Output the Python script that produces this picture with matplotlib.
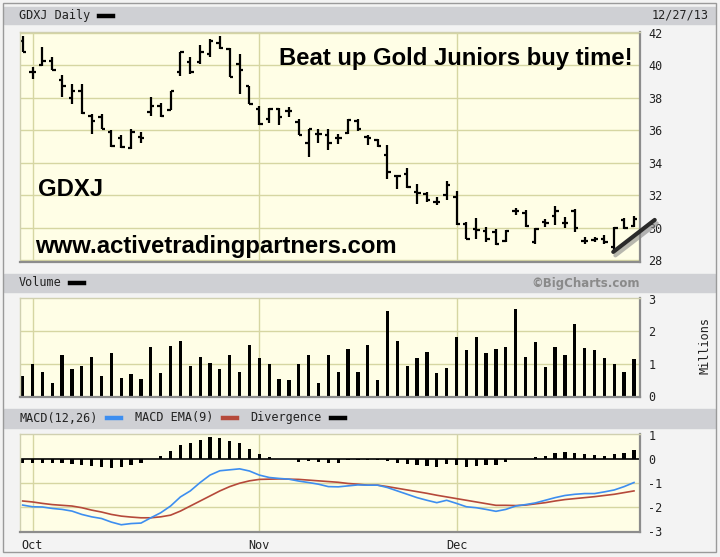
import matplotlib
matplotlib.use("Agg")
import matplotlib.pyplot as plt
from matplotlib.patches import Rectangle
from matplotlib.lines import Line2D
import matplotlib.patheffects as pe

# GDXJ daily bars, Sep 30 2013 .. Dec 27 2013 (63 sessions)
highs = [41.84, 39.9, 41.12, 40.5, 39.4, 38.86, 38.86, 37.0, 37.0, 36.0,
         35.7, 36.05, 35.9, 38.04, 37.7, 38.45, 40.85, 40.5, 41.26, 41.63,
         41.84, 41.1, 40.7, 38.76, 37.5, 37.35, 37.38, 37.42, 36.7, 36.1,
         36.1, 36.1, 35.8, 36.7, 36.7, 35.72, 35.48, 35.07, 33.26, 33.67,
         32.7, 32.2, 31.9, 32.9, 32.24, 30.35, 30.56, 30.04, 29.94, 29.85,
         31.2, 31.07, 29.97, 30.5, 31.3, 30.65, 31.15, 29.43, 29.43, 29.53,
         30.04, 30.6, 30.7]
lows = [40.81, 39.17, 39.99, 39.7, 38.04, 37.63, 37.0, 35.8, 36.1, 34.97,
        34.9, 34.87, 35.2, 36.9, 36.8, 37.25, 39.37, 39.5, 40.1, 40.5,
        41.0, 39.27, 38.25, 37.6, 36.3, 36.45, 36.35, 36.8, 35.7, 34.35,
        35.2, 34.76, 35.17, 35.8, 35.96, 35.07, 34.96, 33.0, 32.4, 32.45,
        31.48, 31.6, 31.38, 31.68, 30.15, 29.3, 29.3, 29.1, 28.9, 29.1,
        30.8, 30.05, 29.0, 30.04, 30.15, 29.96, 29.75, 29.0, 29.1, 29.0,
        28.6, 29.9, 30.05]
opens = [41.5, 39.58, 40.03, 40.26, 39.1, 37.98, 38.4, 36.9, 36.8, 35.9,
         35.5, 34.9, 35.6, 37.1, 37.5, 37.28, 39.58, 40.2, 40.2, 40.7,
         41.4, 41.0, 40.1, 38.7, 37.3, 36.7, 37.3, 37.2, 36.5, 35.2,
         35.8, 35.7, 35.5, 35.85, 36.6, 35.6, 35.4, 34.45, 33.2, 33.3,
         32.2, 32.1, 31.55, 32.0, 31.9, 30.25, 29.9, 29.8, 29.75, 29.15,
         31.0, 30.9, 29.1, 30.35, 30.7, 30.3, 31.0, 29.2, 29.25, 29.3,
         28.8, 30.45, 30.1]
closes = [40.85, 39.58, 40.26, 39.7, 38.7, 38.4, 37.05, 36.6, 36.1, 35.06,
          34.96, 35.9, 35.55, 37.5, 36.87, 38.4, 40.8, 39.58, 40.8, 41.5,
          41.1, 39.3, 39.7, 37.6, 36.4, 37.3, 36.8, 37.2, 35.7, 36.05,
          35.8, 35.2, 35.5, 36.65, 36.05, 35.5, 35.0, 33.4, 33.2, 32.5,
          32.15, 31.68, 31.55, 32.6, 30.2, 29.3, 29.85, 29.3, 29.0, 29.8,
          31.0, 30.1, 29.9, 30.3, 31.0, 30.3, 29.95, 29.2, 29.28, 29.1,
          30.0, 29.95, 30.5]

# volume in millions
volume = [0.62, 0.98, 0.74, 0.40, 1.26, 0.82, 0.94, 1.21, 0.63, 1.33,
          0.56, 0.67, 0.52, 1.52, 0.71, 1.55, 1.70, 0.94, 1.21, 1.02,
          0.82, 1.26, 0.75, 1.58, 1.18, 0.98, 0.52, 0.48, 0.98, 1.26,
          0.40, 1.26, 0.75, 1.44, 0.74, 1.59, 0.48, 2.63, 1.71, 0.94,
          1.18, 1.36, 0.71, 0.87, 1.82, 1.41, 1.82, 1.33, 1.44, 1.52,
          2.70, 1.22, 1.68, 0.91, 1.52, 1.26, 2.22, 1.47, 1.41, 1.19,
          0.98, 0.75, 1.14]

macd = [-1.92, -1.99, -2.0, -2.06, -2.1, -2.17, -2.31, -2.41, -2.48, -2.63,
        -2.74, -2.69, -2.67, -2.45, -2.24, -1.96, -1.58, -1.33, -0.98, -0.67,
        -0.49, -0.45, -0.41, -0.5, -0.67, -0.77, -0.81, -0.84, -0.92, -0.98,
        -1.05, -1.15, -1.16, -1.12, -1.08, -1.09, -1.09, -1.19, -1.33, -1.47,
        -1.61, -1.72, -1.82, -1.72, -1.85, -1.99, -2.03, -2.1, -2.18, -2.1,
        -1.96, -1.9, -1.83, -1.72, -1.61, -1.52, -1.47, -1.44, -1.44, -1.37,
        -1.29, -1.15, -0.98]
macd_ema = [-1.75, -1.79, -1.85, -1.9, -1.93, -1.96, -2.03, -2.13, -2.21, -2.31,
            -2.38, -2.42, -2.45, -2.45, -2.41, -2.34, -2.17, -1.96, -1.75, -1.54,
            -1.33, -1.15, -1.01, -0.91, -0.85, -0.84, -0.83, -0.84, -0.85, -0.88,
            -0.91, -0.94, -0.97, -1.02, -1.05, -1.09, -1.09, -1.15, -1.22, -1.29,
            -1.36, -1.43, -1.51, -1.58, -1.65, -1.72, -1.79, -1.86, -1.93, -1.93,
            -1.94, -1.92, -1.87, -1.82, -1.75, -1.69, -1.65, -1.61, -1.57, -1.52,
            -1.47, -1.40, -1.33]
divergence = [-0.18, -0.18, -0.17, -0.17, -0.17, -0.2, -0.24, -0.28, -0.32, -0.38,
              -0.32, -0.25, -0.17, 0.0, 0.14, 0.35, 0.6, 0.66, 0.81, 0.91,
              0.87, 0.77, 0.66, 0.42, 0.21, 0.07, 0.01, 0.0, -0.11, -0.1,
              -0.13, -0.17, -0.17, -0.04, -0.03, -0.03, -0.04, -0.07, -0.18, -0.21,
              -0.24, -0.28, -0.32, -0.22, -0.25, -0.32, -0.28, -0.25, -0.25, -0.14,
              0.0, 0.0, 0.07, 0.13, 0.25, 0.28, 0.25, 0.21, 0.18, 0.14,
              0.21, 0.25, 0.38]

month_idx = [1, 24, 44]
month_labels = ["Oct", "Nov", "Dec"]

# hand drawn trend line (bar index, price)
trend_x = [59.9, 64.1]
trend_y = [28.5, 30.47]

W, H = 720, 557
BG = "#f3f3f3"
PLOT_BG = "#fffee6"
GRID = "#d6d6a2"
BAR_GRAY = "#cfd0d4"
MONO = "DejaVu Sans Mono"


def rect(l, t, r, b):
    return [l / W, 1 - b / H, (r - l) / W, (b - t) / H]


def fx(px):
    return px / W


def fy(py):
    return 1 - py / H


def style_panel(ax, ticks, ylim):
    ax.set_facecolor(PLOT_BG)
    ax.set_xlim(-0.27, 62.61)
    ax.set_ylim(*ylim)
    ax.yaxis.tick_right()
    ax.set_yticks(ticks)
    ax.tick_params(axis="y", length=0, pad=6, labelsize=8.5, labelcolor="#222222")
    ax.tick_params(axis="x", length=0, labelbottom=False)
    for t in ax.get_yticklabels():
        t.set_fontfamily(MONO)
    for x in month_idx:
        ax.axvline(x, color=GRID, lw=1, zorder=0)
    for s in ["left", "top"]:
        ax.spines[s].set_color("#d0d0b0")
        ax.spines[s].set_linewidth(1)
    for s in ["right", "bottom"]:
        ax.spines[s].set_color("#8c8c8c")
        ax.spines[s].set_linewidth(1.6)


def header(top, bottom):
    fig.add_artist(Rectangle((fx(4), fy(bottom)), fx(711), (bottom - top) / H,
                             transform=fig.transFigure, color=BAR_GRAY, zorder=0))


def swatch(x0, y, color):
    fig.add_artist(Line2D([fx(x0), fx(x0 + 14)], [fy(y), fy(y)], color=color,
                          lw=3.2, transform=fig.transFigure))


fig = plt.figure(figsize=(7.2, 5.57), dpi=100, facecolor=BG)
fig.add_artist(Rectangle((fx(3), fy(552)), fx(713), 549 / H, transform=fig.transFigure,
                         facecolor="none", edgecolor="#9a9a9a", lw=1))

header(7, 24)
header(274, 292)
header(409, 428)

# price panel
ax1 = fig.add_axes(rect(20, 32, 640, 262))
style_panel(ax1, range(28, 43, 2), (27.877, 42.06))
for y in range(28, 43, 2):
    ax1.axhline(y, color=GRID, lw=1, zorder=0)
x = list(range(len(closes)))
ax1.vlines(x, lows, highs, color="black", lw=1.6)
ax1.hlines(opens, [i - 0.35 for i in x], x, color="black", lw=1.6)
ax1.hlines(closes, x, [i + 0.35 for i in x], color="black", lw=1.6)
ax1.plot(trend_x, trend_y, color="#2a2a2a", lw=3, clip_on=False, solid_capstyle="round",
         path_effects=[pe.SimpleLineShadow(offset=(1.5, -2.5), shadow_color="#888888", alpha=0.6),
                       pe.Normal()], zorder=5)

bold = dict(fontfamily="Liberation Sans", fontweight="bold", fontsize=17.2, color="black")
fig.text(fx(279), fy(65.5), "Beat up Gold Juniors buy time!", va="baseline", **bold)
fig.text(fx(38), fy(195.5), "GDXJ", va="baseline", **bold)
fig.text(fx(35), fy(252.5), "www.activetradingpartners.com", va="baseline", **bold)

# volume panel
ax2 = fig.add_axes(rect(20, 298, 640, 397))
style_panel(ax2, [0, 1, 2, 3], (-0.031, 3.031))
for y in [1, 2]:
    ax2.axhline(y, color=GRID, lw=1, zorder=0)
ax2.bar(x, volume, width=0.33, color="black")

# MACD panel
ax3 = fig.add_axes(rect(20, 434, 640, 532))
style_panel(ax3, [1, 0, -1, -2, -3], (-3.042, 1.042))
ax3.set_yticklabels(["1", "0", "-1", "-2", "-3"], fontfamily=MONO)
for y in [-1, -2]:
    ax3.axhline(y, color=GRID, lw=1, zorder=0)
ax3.axhline(0, color="black", lw=1.2, zorder=1)
ax3.bar(x, divergence, width=0.33, color="black", zorder=2)
ax3.plot(x, macd_ema, color="#b5493a", lw=1.2, zorder=3)
ax3.plot(x, macd, color="#3d8ef0", lw=1.2, zorder=3)
ax3.set_xticks(month_idx)
ax3.set_xticklabels(month_labels, fontfamily=MONO, fontsize=8.5, color="#222222")
ax3.tick_params(axis="x", labelbottom=True, pad=5)

# header texts
hdr = dict(fontfamily=MONO, fontsize=8.5, color="#222222", va="center")
fig.text(fx(19), fy(15.5), "GDXJ Daily", **hdr)
swatch(99, 15.5, "black")
fig.text(fx(709), fy(15.5), "12/27/13", ha="right", **hdr)
fig.text(fx(19), fy(283), "Volume", **hdr)
swatch(70, 283, "black")
fig.text(fx(640), fy(283), "\u00a9BigCharts.com", ha="right", va="center",
         fontfamily="DejaVu Sans", fontweight="bold", fontsize=8.5, color="#8a8a8a")
fig.text(fx(19), fy(418), "MACD(12,26)", **hdr)
swatch(107, 418, "#3d8ef0")
fig.text(fx(135), fy(418), "MACD EMA(9)", **hdr)
swatch(223, 418, "#b5493a")
fig.text(fx(250), fy(418), "Divergence", **hdr)
swatch(331, 418, "black")
fig.text(fx(705), fy(345), "Millions", rotation=90, ha="center", va="center",
         fontfamily=MONO, fontsize=8.5, color="#222222")

fig.savefig("out.png", dpi=100, facecolor=BG)
